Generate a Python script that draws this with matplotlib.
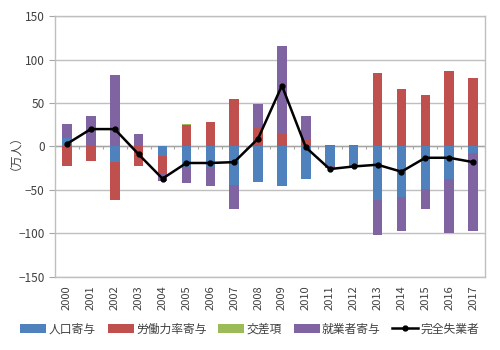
import matplotlib
matplotlib.use("Agg")
import matplotlib.pyplot as plt
import numpy as np

plt.rcParams['font.family'] = ['Noto Sans CJK JP', 'DejaVu Sans']

years = ["2000", "2001", "2002", "2003", "2004", "2005", "2006", "2007", "2008",
         "2009", "2010", "2011", "2012", "2013", "2014", "2015", "2016", "2017"]
population = [10, 0, -18, 0, -11, -24, -24, -44, -41, -45, -37, -22, -22, -62, -58, -49, -37, -7]
participation = [-22, -17, -44, -22, -19, 25, 28, 55, 22, 14, 7, 2, 2, 84, 66, 59, 87, 79]
cross = [0, 0, 0, 0, 0, 1, 0, 0, 0, 0, 0, 0, 0, 0, 0, 0, 0, 0]
employed = [16, 35, 82, 14, -10, -18, -22, -28, 27, 102, 28, -3, 0, -40, -39, -23, -63, -90]
unemployed = [3, 20, 20, -9, -37, -19, -19, -18, 9, 70, -1, -26, -23, -21, -29, -13, -13, -18]

series_names = ["人口寄与", "労働力率寄与", "交差項", "就業者寄与"]
colors = ["#4F81BD", "#C0504D", "#9BBB59", "#8064A2"]

fig = plt.figure(figsize=(5, 3.5), dpi=100)
ax = fig.add_axes([0.11, 0.209, 0.86, 0.745])

x = np.arange(len(years))
pos_bottom = np.zeros(len(years))
neg_bottom = np.zeros(len(years))
handles = []
for vals, name, c in zip([population, participation, cross, employed], series_names, colors):
    v = np.array(vals, dtype=float)
    bottoms = np.where(v >= 0, pos_bottom, neg_bottom)
    b = ax.bar(x, v, width=0.4, bottom=bottoms, color=c, label=name, zorder=2)
    handles.append(b)
    pos_bottom = pos_bottom + np.where(v >= 0, v, 0)
    neg_bottom = neg_bottom + np.where(v < 0, v, 0)

ln, = ax.plot(x, unemployed, color="black", lw=1.8, marker="o", markersize=3.5,
              label="完全失業者", zorder=4)

ax.set_xlim(-0.5, len(years) - 0.5)
ax.set_ylim(-150, 150)
ax.set_yticks(np.arange(-150, 151, 50))
ax.yaxis.grid(True, color="#BFBFBF", lw=1, zorder=0)
ax.set_axisbelow(True)
ax.axhline(0, color="#A6A6A6", lw=1, zorder=1)
# small tick marks on the zero axis between categories
ax.vlines(np.arange(len(years) + 1) - 0.5, -3, 0, color="#A6A6A6", lw=0.8, zorder=1)

ax.set_xticks(x)
ax.set_xticklabels(years, rotation=90, fontsize=8, color="#404040")
ax.tick_params(axis="x", length=0, pad=6)
ax.tick_params(axis="y", labelsize=8.5, colors="#404040", length=4, color="#A6A6A6")
for s in ax.spines.values():
    s.set_color("#BFBFBF")
    s.set_linewidth(1)

ax.set_ylabel("（万人）", fontsize=8.5, color="#404040", labelpad=2)

fig.legend(handles + [ln], series_names + ["完全失業者"], loc="center",
           bbox_to_anchor=(0.5, 0.06), ncol=5, frameon=False, fontsize=8.5,
           handlelength=2.2, handletextpad=0.2, columnspacing=1.0,
           labelcolor="#404040")

fig.savefig("out.png", dpi=100)
